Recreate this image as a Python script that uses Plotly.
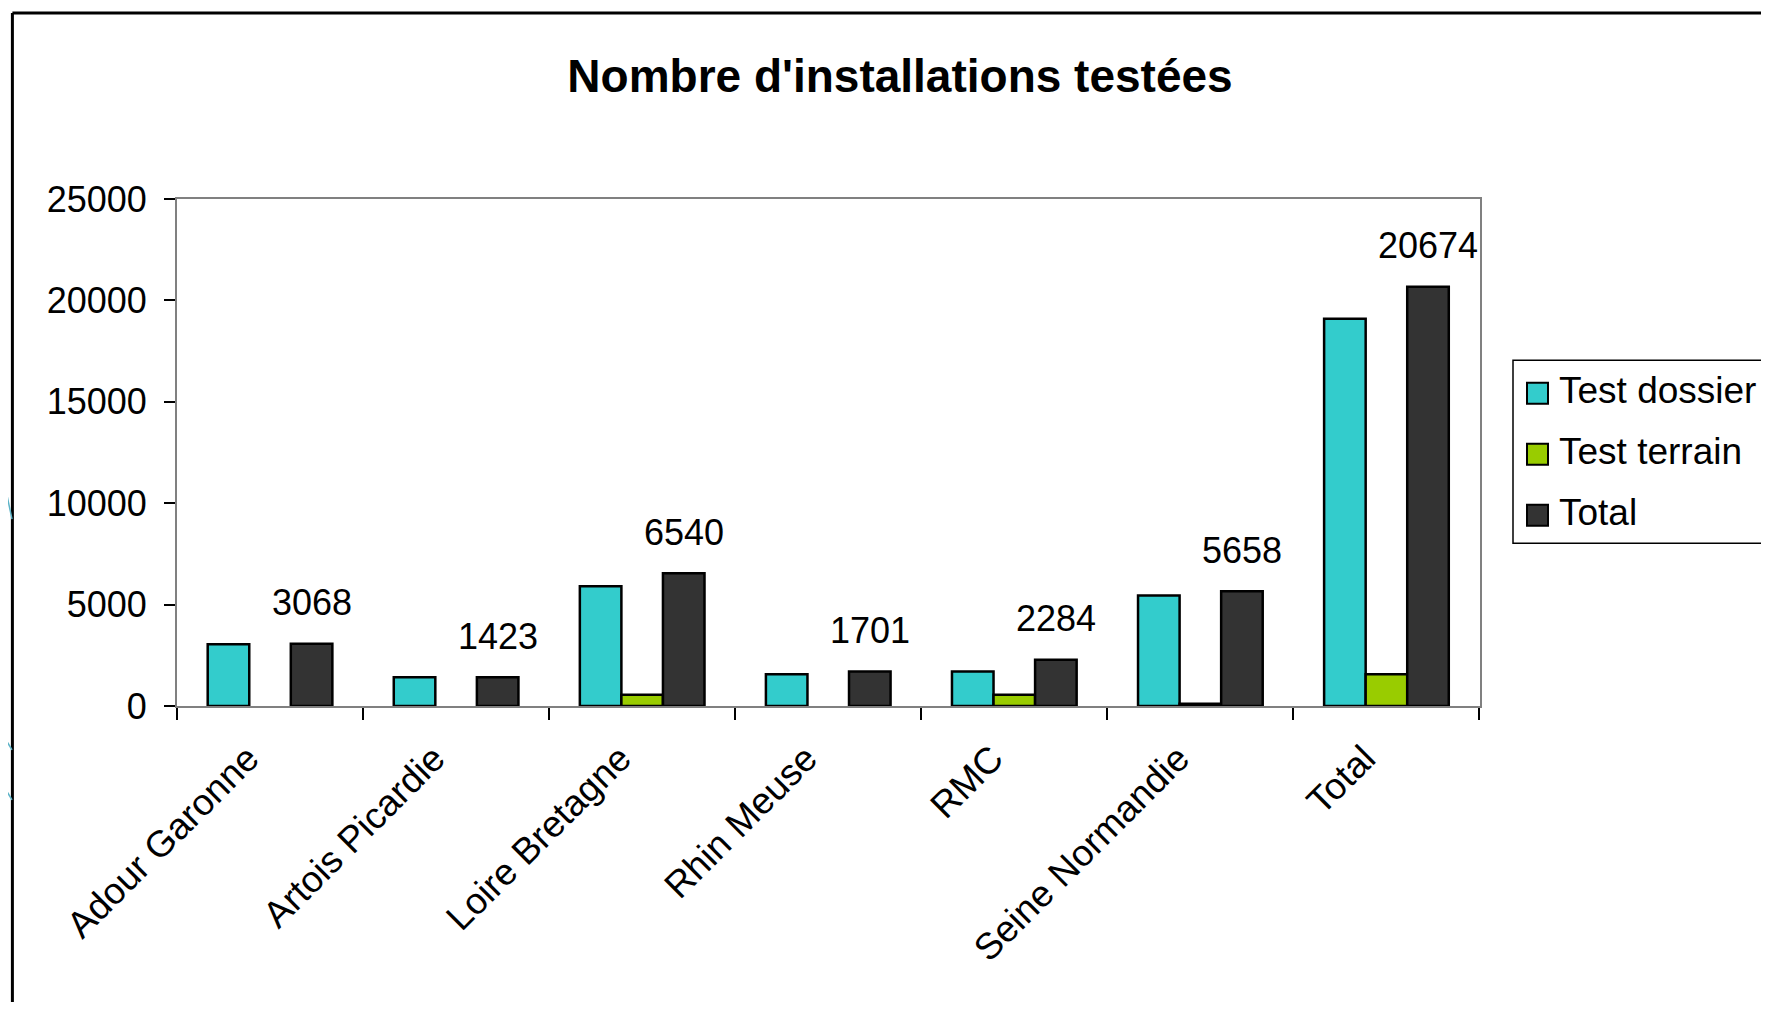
import plotly.graph_objects as go

# ---------------- data ----------------
categories = ["Adour Garonne", "Artois Picardie", "Loire Bretagne", "Rhin Meuse",
              "RMC", "Seine Normandie", "Total"]
test_dossier = [3050, 1420, 5900, 1570, 1700, 5450, 19100]
test_terrain = [0, 0, 560, 0, 560, 110, 1560]
total = [3068, 1423, 6540, 1701, 2284, 5658, 20674]
series_names = ["Test dossier", "Test terrain", "Total"]
y_ticks = [0, 5000, 10000, 15000, 20000, 25000]
title_text = "Nombre d'installations testées"

# ---------------- style ----------------
colors = ["#33CCCC", "#99CC00", "#333333"]
FONT = "Liberation Sans, Arial, sans-serif"
W, H = 1753, 994
L, R, T, B = 169, 281, 190.5, 296
pw, ph = W - L - R, H - T - B
BARGAP = 0.33


def px(x):
    return (x - L) / pw


def py(y):
    return 1 - (y - T) / ph


fig = go.Figure()
for name, vals, col in zip(series_names, [test_dossier, test_terrain, total], colors):
    fig.add_trace(go.Bar(
        x=categories, y=vals, name=name,
        marker=dict(color=col,
                    line=dict(color="#000000", width=[2.5 if v else 0 for v in vals])),
        showlegend=False,
    ))

# data labels on the Total series (third bar of each group)
offset = (1 - BARGAP) / 3
annotations = []
for i, v in enumerate(total):
    annotations.append(dict(
        x=i + offset, y=v, xref="x", yref="y", text=str(v), showarrow=False,
        yanchor="middle", xanchor="center", yshift=41,
        font=dict(family=FONT, size=36, color="#000000"),
    ))

# manual legend
shapes = []
leg_x0, leg_y0, leg_y1 = 1505, 352, 535
shapes.append(dict(type="rect", xref="paper", yref="paper",
                   x0=px(leg_x0), x1=px(1900), y0=py(leg_y1), y1=py(leg_y0),
                   line=dict(color="#000000", width=1.5), fillcolor="white"))
for k, (name, col) in enumerate(zip(series_names, colors)):
    cy = 385 + 61 * k
    shapes.append(dict(type="rect", xref="paper", yref="paper",
                       x0=px(1519), x1=px(1540), y0=py(cy + 10.5), y1=py(cy - 10.5),
                       line=dict(color="#000000", width=2), fillcolor=col))
    annotations.append(dict(x=px(1549), y=py(cy - 3), xref="paper", yref="paper",
                            text=name, showarrow=False, xanchor="left", yanchor="middle",
                            font=dict(family=FONT, size=37, color="#000000")))

# outer slide frame
shapes.append(dict(type="line", xref="paper", yref="paper",
                   x0=px(4.4), x1=px(4.4), y0=py(4.4), y1=py(1100),
                   line=dict(color="#000000", width=3)))
shapes.append(dict(type="line", xref="paper", yref="paper",
                   x0=px(4.4), x1=px(1900), y0=py(4.4), y1=py(4.4),
                   line=dict(color="#000000", width=3)))
# decorative teal strokes at the left edge
for (xa, ya, xb, yb) in [(-8, 454, 4, 511), (-8, 722, 4, 742), (-8, 772, 4, 792)]:
    shapes.append(dict(type="line", xref="paper", yref="paper",
                       x0=px(xa), x1=px(xb), y0=py(ya), y1=py(yb),
                       line=dict(color="#5DB4C8", width=1.5)))

fig.update_layout(
    width=W, height=H,
    margin=dict(l=L, r=R, t=T, b=B, pad=0),
    paper_bgcolor="white", plot_bgcolor="white",
    barmode="group", bargap=BARGAP, bargroupgap=0,
    font=dict(family=FONT, size=36, color="#000000"),
    title=dict(text=title_text, x=892 / W, y=1 - 67.6 / H, xref="container", yref="container",
               xanchor="center", yanchor="middle",
               font=dict(family=FONT, size=46, color="#000000", weight="bold")),
    annotations=annotations, shapes=shapes,
)
fig.update_xaxes(
    showgrid=False, showline=True, linecolor="#808080", linewidth=2, mirror=True,
    ticks="outside", tickson="boundaries", ticklen=12, tickcolor="#000000", tickwidth=1.5,
    tickangle=-45, ticklabelshift=-22, ticklabelstandoff=14,
    tickfont=dict(family=FONT, size=37, color="#000000"),
)
fig.update_yaxes(
    range=[0, 25000], tickvals=y_ticks, ticktext=[str(t) for t in y_ticks],
    showgrid=False, zeroline=False, showline=True, linecolor="#808080", linewidth=2, mirror=True,
    ticks="outside", ticklen=11, tickcolor="#000000", tickwidth=1.5,
    ticklabelstandoff=10, tickfont=dict(family=FONT, size=36, color="#000000"),
)

fig.write_html("out.html")
